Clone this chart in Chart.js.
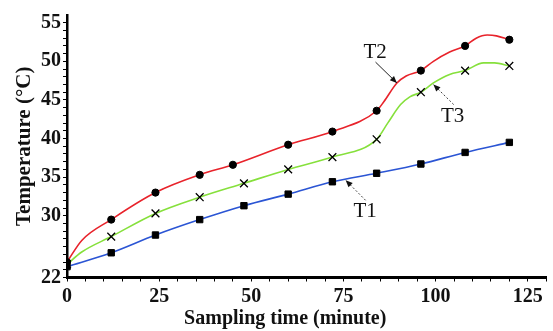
<!DOCTYPE html>
<html>
<head>
<meta charset="utf-8">
<script src="https://cdn.jsdelivr.net/npm/chart.js@4/dist/chart.umd.min.js"></script>
<style>
  html, body { margin: 0; padding: 0; background: #ffffff; }
  #wrap { width: 553px; height: 331px; }
</style>
</head>
<body>
<div id="wrap"><canvas id="c" width="553" height="331"></canvas></div>
<script>
// ---- data ----
const t1Time = [0, 12, 24, 36, 48, 60, 72, 84, 96, 108, 120];
const t1Temp = [23.4, 25.2, 27.5, 29.5, 31.3, 32.8, 34.4, 35.5, 36.7, 38.2, 39.5];
const t1Markers = [0, 12, 24, 36, 48, 60, 72, 84, 96, 108, 120];

const t2Time = [0, 4, 12, 24, 36, 45, 60, 72, 84, 86, 89.5, 92, 96, 99.4, 103.8, 108, 111, 114, 116.5, 120];
const t2Temp = [24.0, 26.8, 29.5, 33.0, 35.3, 36.6, 39.2, 40.9, 43.6, 44.8, 47.2, 48.1, 48.8, 50.0, 51.2, 52.0, 53.0, 53.4, 53.3, 52.8];
const t2Markers = [0, 12, 24, 36, 45, 60, 72, 84, 96, 108, 120];

const t3Time = [0, 4, 12, 24, 36, 48, 60, 72, 84, 87, 90.5, 93, 96, 99.4, 103.8, 108, 113, 116, 120];
const t3Temp = [23.7, 25.3, 27.3, 30.3, 32.4, 34.2, 36.0, 37.6, 39.9, 42.0, 44.4, 45.4, 46.0, 47.2, 48.3, 48.8, 49.8, 49.8, 49.4];
const t3Markers = [0, 12, 24, 36, 48, 60, 72, 84, 96, 108, 120];

const seriesNames = ['T1', 'T2', 'T3'];
const xTickLabels = [0, 25, 50, 75, 100, 125];
const yTickLabels = [22, 30, 35, 40, 45, 50, 55];
const xTitle = 'Sampling time (minute)';
const yTitle = 'Temperature (°C)';

// label callouts (data coordinates)
const callouts = [
  { text: 'T2', at: [83.6, 51.1], from: [83.7, 49.9], to: [89.5, 47.2], dash: [] },
  { text: 'T3', at: [104.6, 42.8], from: [104.9, 44.4], to: [99.4, 47.0], dash: [2, 2] },
  { text: 'T1', at: [80.9, 30.6], from: [81.0, 32.0], to: [75.6, 34.6], dash: [2, 2] }
];

const FONT = '"Liberation Serif", "DejaVu Serif", serif';

function pts(xs, ys) { return xs.map((x, i) => ({ x: x, y: ys[i] })); }

function markerRadius(list, r) {
  return (ctx) => (ctx.raw && list.includes(ctx.raw.x)) ? r : 0;
}

const calloutPlugin = {
  id: 'callouts',
  afterDatasetsDraw(chart) {
    const { ctx, scales: { x, y } } = chart;
    ctx.save();
    callouts.forEach(c => {
      const x1 = x.getPixelForValue(c.from[0]), y1 = y.getPixelForValue(c.from[1]);
      const x2 = x.getPixelForValue(c.to[0]), y2 = y.getPixelForValue(c.to[1]);
      ctx.strokeStyle = c.dash.length ? '#444' : '#222';
      ctx.fillStyle = '#111';
      ctx.lineWidth = 1;
      ctx.setLineDash(c.dash);
      ctx.beginPath();
      ctx.moveTo(x1, y1);
      ctx.lineTo(x2, y2);
      ctx.stroke();
      ctx.setLineDash([]);
      const ang = Math.atan2(y2 - y1, x2 - x1);
      const L = 7, W = 3;
      ctx.beginPath();
      ctx.moveTo(x2, y2);
      ctx.lineTo(x2 - L * Math.cos(ang) + W * Math.sin(ang), y2 - L * Math.sin(ang) - W * Math.cos(ang));
      ctx.lineTo(x2 - L * Math.cos(ang) - W * Math.sin(ang), y2 - L * Math.sin(ang) + W * Math.cos(ang));
      ctx.closePath();
      ctx.fill();
      ctx.font = '21px ' + FONT;
      ctx.fillStyle = '#111';
      ctx.textAlign = 'center';
      ctx.textBaseline = 'middle';
      ctx.fillText(c.text, x.getPixelForValue(c.at[0]), y.getPixelForValue(c.at[1]));
    });
    // x axis title (the reference places it left of the plot centre)
    ctx.font = 'bold 20px ' + FONT;
    ctx.textAlign = 'center';
    ctx.textBaseline = 'middle';
    ctx.fillStyle = '#111';
    ctx.fillText(xTitle, x.getPixelForValue(59.2), x.bottom - 12);
    ctx.restore();
  }
};

const whiteBg = {
  id: 'whiteBg',
  beforeDraw(chart) {
    const { ctx } = chart;
    ctx.save();
    ctx.fillStyle = '#fff';
    ctx.fillRect(0, 0, chart.width, chart.height);
    ctx.restore();
  }
};

new Chart(document.getElementById('c'), {
  type: 'line',
  data: {
    datasets: [
      {
        label: seriesNames[0],
        data: pts(t1Time, t1Temp),
        borderColor: '#2b55d4',
        borderWidth: 1.6,
        backgroundColor: '#000',
        pointStyle: 'rect',
        pointRadius: markerRadius(t1Markers, 4.5),
        pointBorderWidth: 1,
        pointBorderColor: '#000',
        pointBackgroundColor: '#000',
        cubicInterpolationMode: 'monotone'
      },
      {
        label: seriesNames[1],
        data: pts(t2Time, t2Temp),
        borderColor: '#e8232b',
        borderWidth: 1.6,
        backgroundColor: '#000',
        pointStyle: 'circle',
        pointRadius: markerRadius(t2Markers, 3.6),
        pointBorderWidth: 1,
        pointBorderColor: '#000',
        pointBackgroundColor: '#000',
        cubicInterpolationMode: 'monotone'
      },
      {
        label: seriesNames[2],
        data: pts(t3Time, t3Temp),
        borderColor: '#86e03c',
        borderWidth: 1.6,
        backgroundColor: '#000',
        pointStyle: 'crossRot',
        pointRadius: markerRadius(t3Markers, 5.5),
        pointBorderWidth: 1.3,
        pointBorderColor: '#000',
        pointBackgroundColor: '#000',
        cubicInterpolationMode: 'monotone'
      }
    ]
  },
  options: {
    responsive: false,
    animation: false,
    layout: { padding: { top: 15, right: 2, bottom: 0, left: 0 } },
    plugins: { legend: { display: false }, tooltip: { enabled: false } },
    elements: { point: { hoverRadius: 0 } },
    scales: {
      x: {
        type: 'linear',
        min: 0,
        max: 130,
        border: { display: true, color: '#000', width: 3 },
        grid: { drawOnChartArea: false, drawTicks: true, tickLength: 4, tickColor: '#000', tickWidth: 1 },
        ticks: {
          stepSize: 5,
          autoSkip: false,
          maxRotation: 0,
          padding: 3,
          color: '#111',
          font: { family: FONT, size: 20, weight: 'bold' },
          callback: (v) => xTickLabels.includes(v) ? String(v) : ''
        },
        title: { display: false, text: xTitle },
        afterFit: (s) => { s.height = 53.5; }
      },
      y: {
        type: 'linear',
        min: 22,
        max: 56,
        border: { display: true, color: '#000', width: 2.5 },
        grid: { drawOnChartArea: false, drawTicks: true, tickLength: 4, tickColor: '#000', tickWidth: 1 },
        afterBuildTicks: (s) => {
          const t = [];
          for (let v = 22; v <= 55; v++) t.push({ value: v });
          s.ticks = t;
        },
        ticks: {
          autoSkip: false,
          padding: 2,
          color: '#111',
          font: { family: FONT, size: 20, weight: 'bold' },
          callback: (v) => yTickLabels.includes(v) ? String(v) : ''
        },
        title: {
          display: true,
          text: yTitle,
          color: '#111',
          font: { family: FONT, size: 21, weight: 'bold' },
          padding: { top: 12, bottom: 0 }
        },
        afterFit: (s) => { s.width = 67; }
      }
    }
  },
  plugins: [whiteBg, calloutPlugin]
});
</script>
</body>
</html>
